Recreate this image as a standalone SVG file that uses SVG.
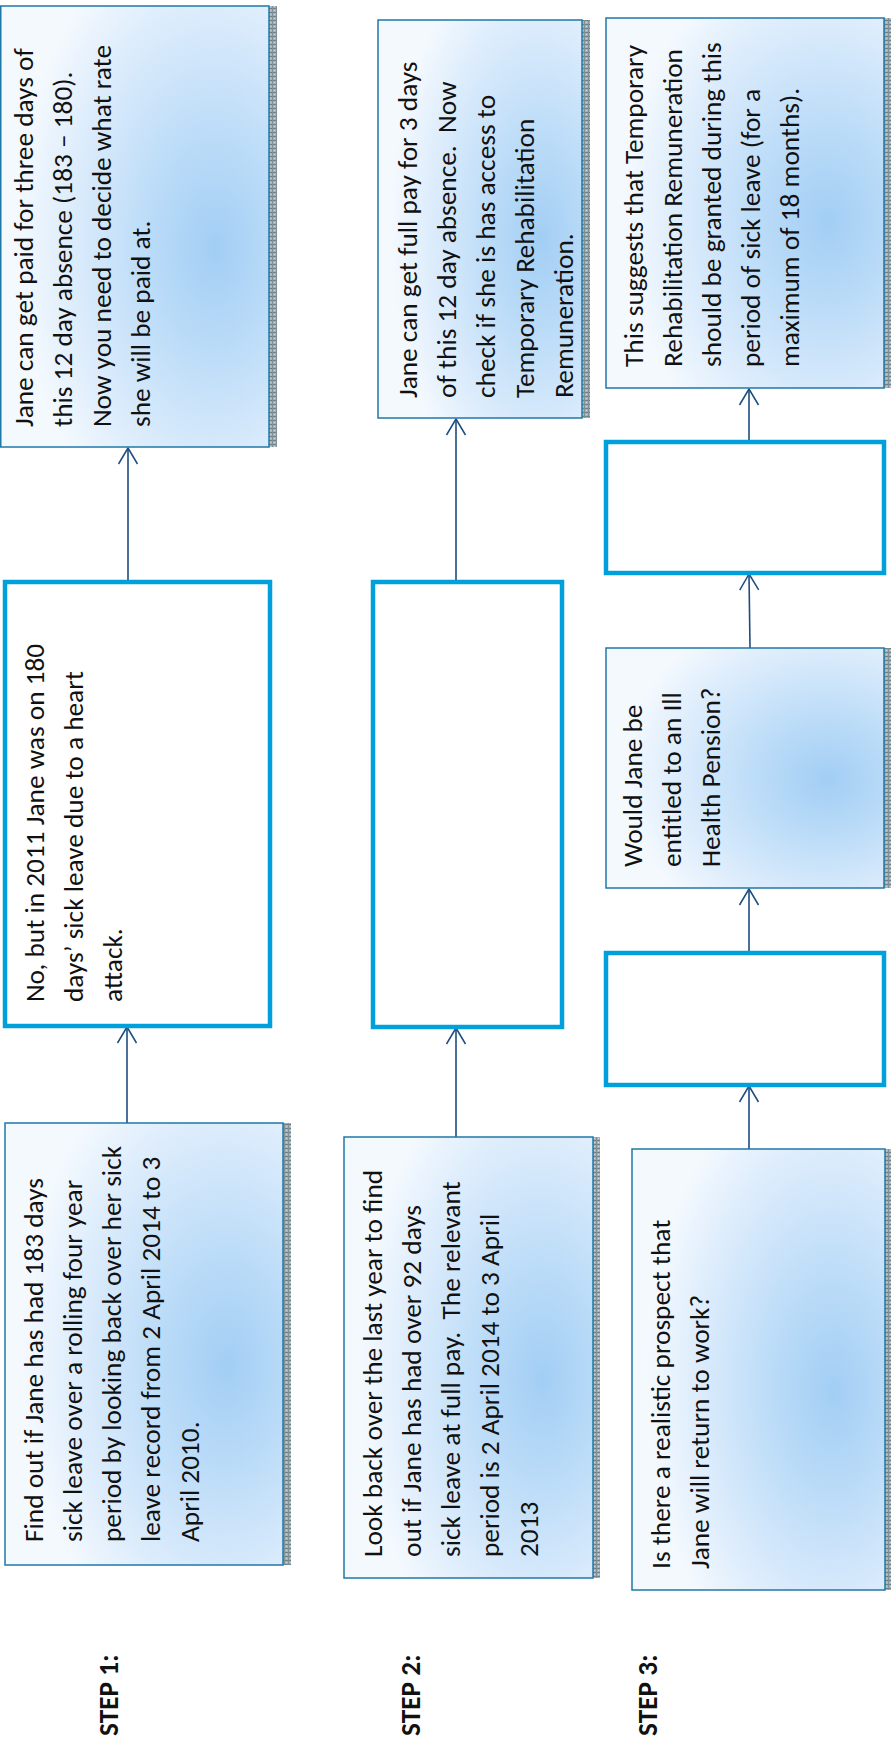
<svg xmlns="http://www.w3.org/2000/svg" width="891" height="1745" viewBox="0 0 891 1745">
<defs>
<radialGradient id="gb" cx="0.78" cy="0.52" r="0.72" fx="0.8" fy="0.55">
<stop offset="0" stop-color="#a2cef4"/>
<stop offset="0.35" stop-color="#bcdcf8"/>
<stop offset="0.75" stop-color="#deedfc"/>
<stop offset="1" stop-color="#f4f9fe"/>
</radialGradient>
<pattern id="sh" width="4" height="4" patternUnits="userSpaceOnUse">
<rect width="4" height="4" fill="#a4b1b6"/>
<rect x="0" y="0" width="4" height="1" fill="#6f8188"/>
<rect x="0" y="0" width="1" height="4" fill="#7f9097"/>
<rect x="2" y="2" width="1" height="1" fill="#cfd6d9"/>
</pattern>
<marker id="arr" markerUnits="userSpaceOnUse" markerWidth="22" markerHeight="24" viewBox="-18 -12 22 24" refX="0" refY="0" orient="auto" overflow="visible">
<path d="M-16,-9.5 L0,0 L-16,9.5" fill="none" stroke="#1d4d80" stroke-width="1.5" stroke-linejoin="round"/>
</marker>
</defs>
<style>
.tb{fill:url(#gb);stroke:#1f78a8;stroke-width:1.5}
.sd{fill:url(#sh)}
.kb{fill:#ffffff;stroke:#00a0da;stroke-width:4.5}
.t{font-family:"Carlito","Lato",sans-serif;font-size:27.3px;fill:#111111}
.s{font-family:"Carlito","Lato",sans-serif;font-size:27.3px;font-weight:bold;fill:#111111}
.c{fill:none;stroke:#1d4d80;stroke-width:1.6;marker-end:url(#arr)}
</style>

<g id="connectors">
<path class="c" d="M127,1123 L127,1027"/>
<path class="c" d="M128,582 L128,448"/>
<path class="c" d="M456,1137 L456,1028"/>
<path class="c" d="M456,582 L456,419"/>
<path class="c" d="M749,1149 L749,1086"/>
<path class="c" d="M749,953 L749,889"/>
<path class="c" d="M750,648 L749,574"/>
<path class="c" d="M749,442 L749,389"/>
</g>

<g id="label-step1"><text class="s" transform="translate(118,1736) rotate(-90)">STEP 1:</text></g>
<g id="label-step2"><text class="s" transform="translate(420,1736) rotate(-90)">STEP 2:</text></g>
<g id="label-step3"><text class="s" transform="translate(657,1736) rotate(-90)">STEP 3:</text></g>

<g id="node-a">
<rect class="sd" x="283" y="1123" width="8" height="442"/>
<rect class="tb" x="5" y="1123" width="278" height="442"/>
<text class="t" transform="translate(43,1542) rotate(-90)">
<tspan x="0" y="0">Find out if Jane has had 183 days</tspan>
<tspan x="0" y="39">sick leave over a rolling four year</tspan>
<tspan x="0" y="78">period by looking back over her sick</tspan>
<tspan x="0" y="117">leave record from 2 April 2014 to 3</tspan>
<tspan x="0" y="156">April 2010.</tspan>
</text>
</g>

<g id="node-b">
<rect class="kb" x="5" y="582" width="265" height="444"/>
<text class="t" transform="translate(44,1002) rotate(-90)">
<tspan x="0" y="0">No, but in 2011 Jane was on 180</tspan>
<tspan x="0" y="39">days’ sick leave due to a heart</tspan>
<tspan x="0" y="78">attack.</tspan>
</text>
</g>

<g id="node-c">
<rect class="sd" x="269" y="6" width="8" height="441"/>
<rect class="tb" x="0.75" y="6" width="268.25" height="441"/>
<text class="t" transform="translate(33,427) rotate(-90)">
<tspan x="0" y="0">Jane can get paid for three days of</tspan>
<tspan x="0" y="39">this 12 day absence (183 – 180).</tspan>
<tspan x="0" y="78">Now you need to decide what rate</tspan>
<tspan x="0" y="117">she will be paid at.</tspan>
</text>
</g>

<g id="node-d">
<rect class="sd" x="593" y="1137" width="7" height="441"/>
<rect class="tb" x="344" y="1137" width="249" height="441"/>
<text class="t" transform="translate(382,1557) rotate(-90)">
<tspan x="0" y="0">Look back over the last year to find</tspan>
<tspan x="0" y="39">out if Jane has had over 92 days</tspan>
<tspan x="0" y="78">sick leave at full pay.&#160; The relevant</tspan>
<tspan x="0" y="117">period is 2 April 2014 to 3 April</tspan>
<tspan x="0" y="156">2013</tspan>
</text>
</g>

<g id="node-e">
<rect class="kb" x="373" y="582" width="189" height="445"/>
</g>

<g id="node-f">
<rect class="sd" x="582" y="20" width="8" height="398"/>
<rect class="tb" x="378" y="20" width="204" height="398"/>
<text class="t" transform="translate(417,398) rotate(-90)">
<tspan x="0" y="0">Jane can get full pay for 3 days</tspan>
<tspan x="0" y="39">of this 12 day absence.&#160; Now</tspan>
<tspan x="0" y="78">check if she is has access to</tspan>
<tspan x="0" y="117">Temporary Rehabilitation</tspan>
<tspan x="0" y="156">Remuneration.</tspan>
</text>
</g>

<g id="node-i">
<rect class="sd" x="885" y="1149" width="6" height="441"/>
<rect class="tb" x="632" y="1149" width="253" height="441"/>
<text class="t" transform="translate(670,1569) rotate(-90)">
<tspan x="0" y="0">Is there a realistic prospect that</tspan>
<tspan x="0" y="39">Jane will return to work?</tspan>
</text>
</g>

<g id="node-k">
<rect class="kb" x="606" y="953" width="278" height="132"/>
</g>

<g id="node-w">
<rect class="sd" x="884" y="648" width="7" height="240"/>
<rect class="tb" x="606" y="648" width="278" height="240"/>
<text class="t" transform="translate(642,867) rotate(-90)">
<tspan x="0" y="0">Would Jane be</tspan>
<tspan x="0" y="39">entitled to an Ill</tspan>
<tspan x="0" y="78">Health Pension?</tspan>
</text>
</g>

<g id="node-g">
<rect class="kb" x="606" y="442" width="278" height="131"/>
</g>

<g id="node-h">
<rect class="sd" x="884" y="18" width="7" height="370"/>
<rect class="tb" x="606" y="18" width="278" height="370"/>
<text class="t" transform="translate(643,367) rotate(-90)">
<tspan x="0" y="0">This suggests that Temporary</tspan>
<tspan x="0" y="39">Rehabilitation Remuneration</tspan>
<tspan x="0" y="78">should be granted during this</tspan>
<tspan x="0" y="117">period of sick leave (for a</tspan>
<tspan x="0" y="156">maximum of 18 months).</tspan>
</text>
</g>
</svg>
